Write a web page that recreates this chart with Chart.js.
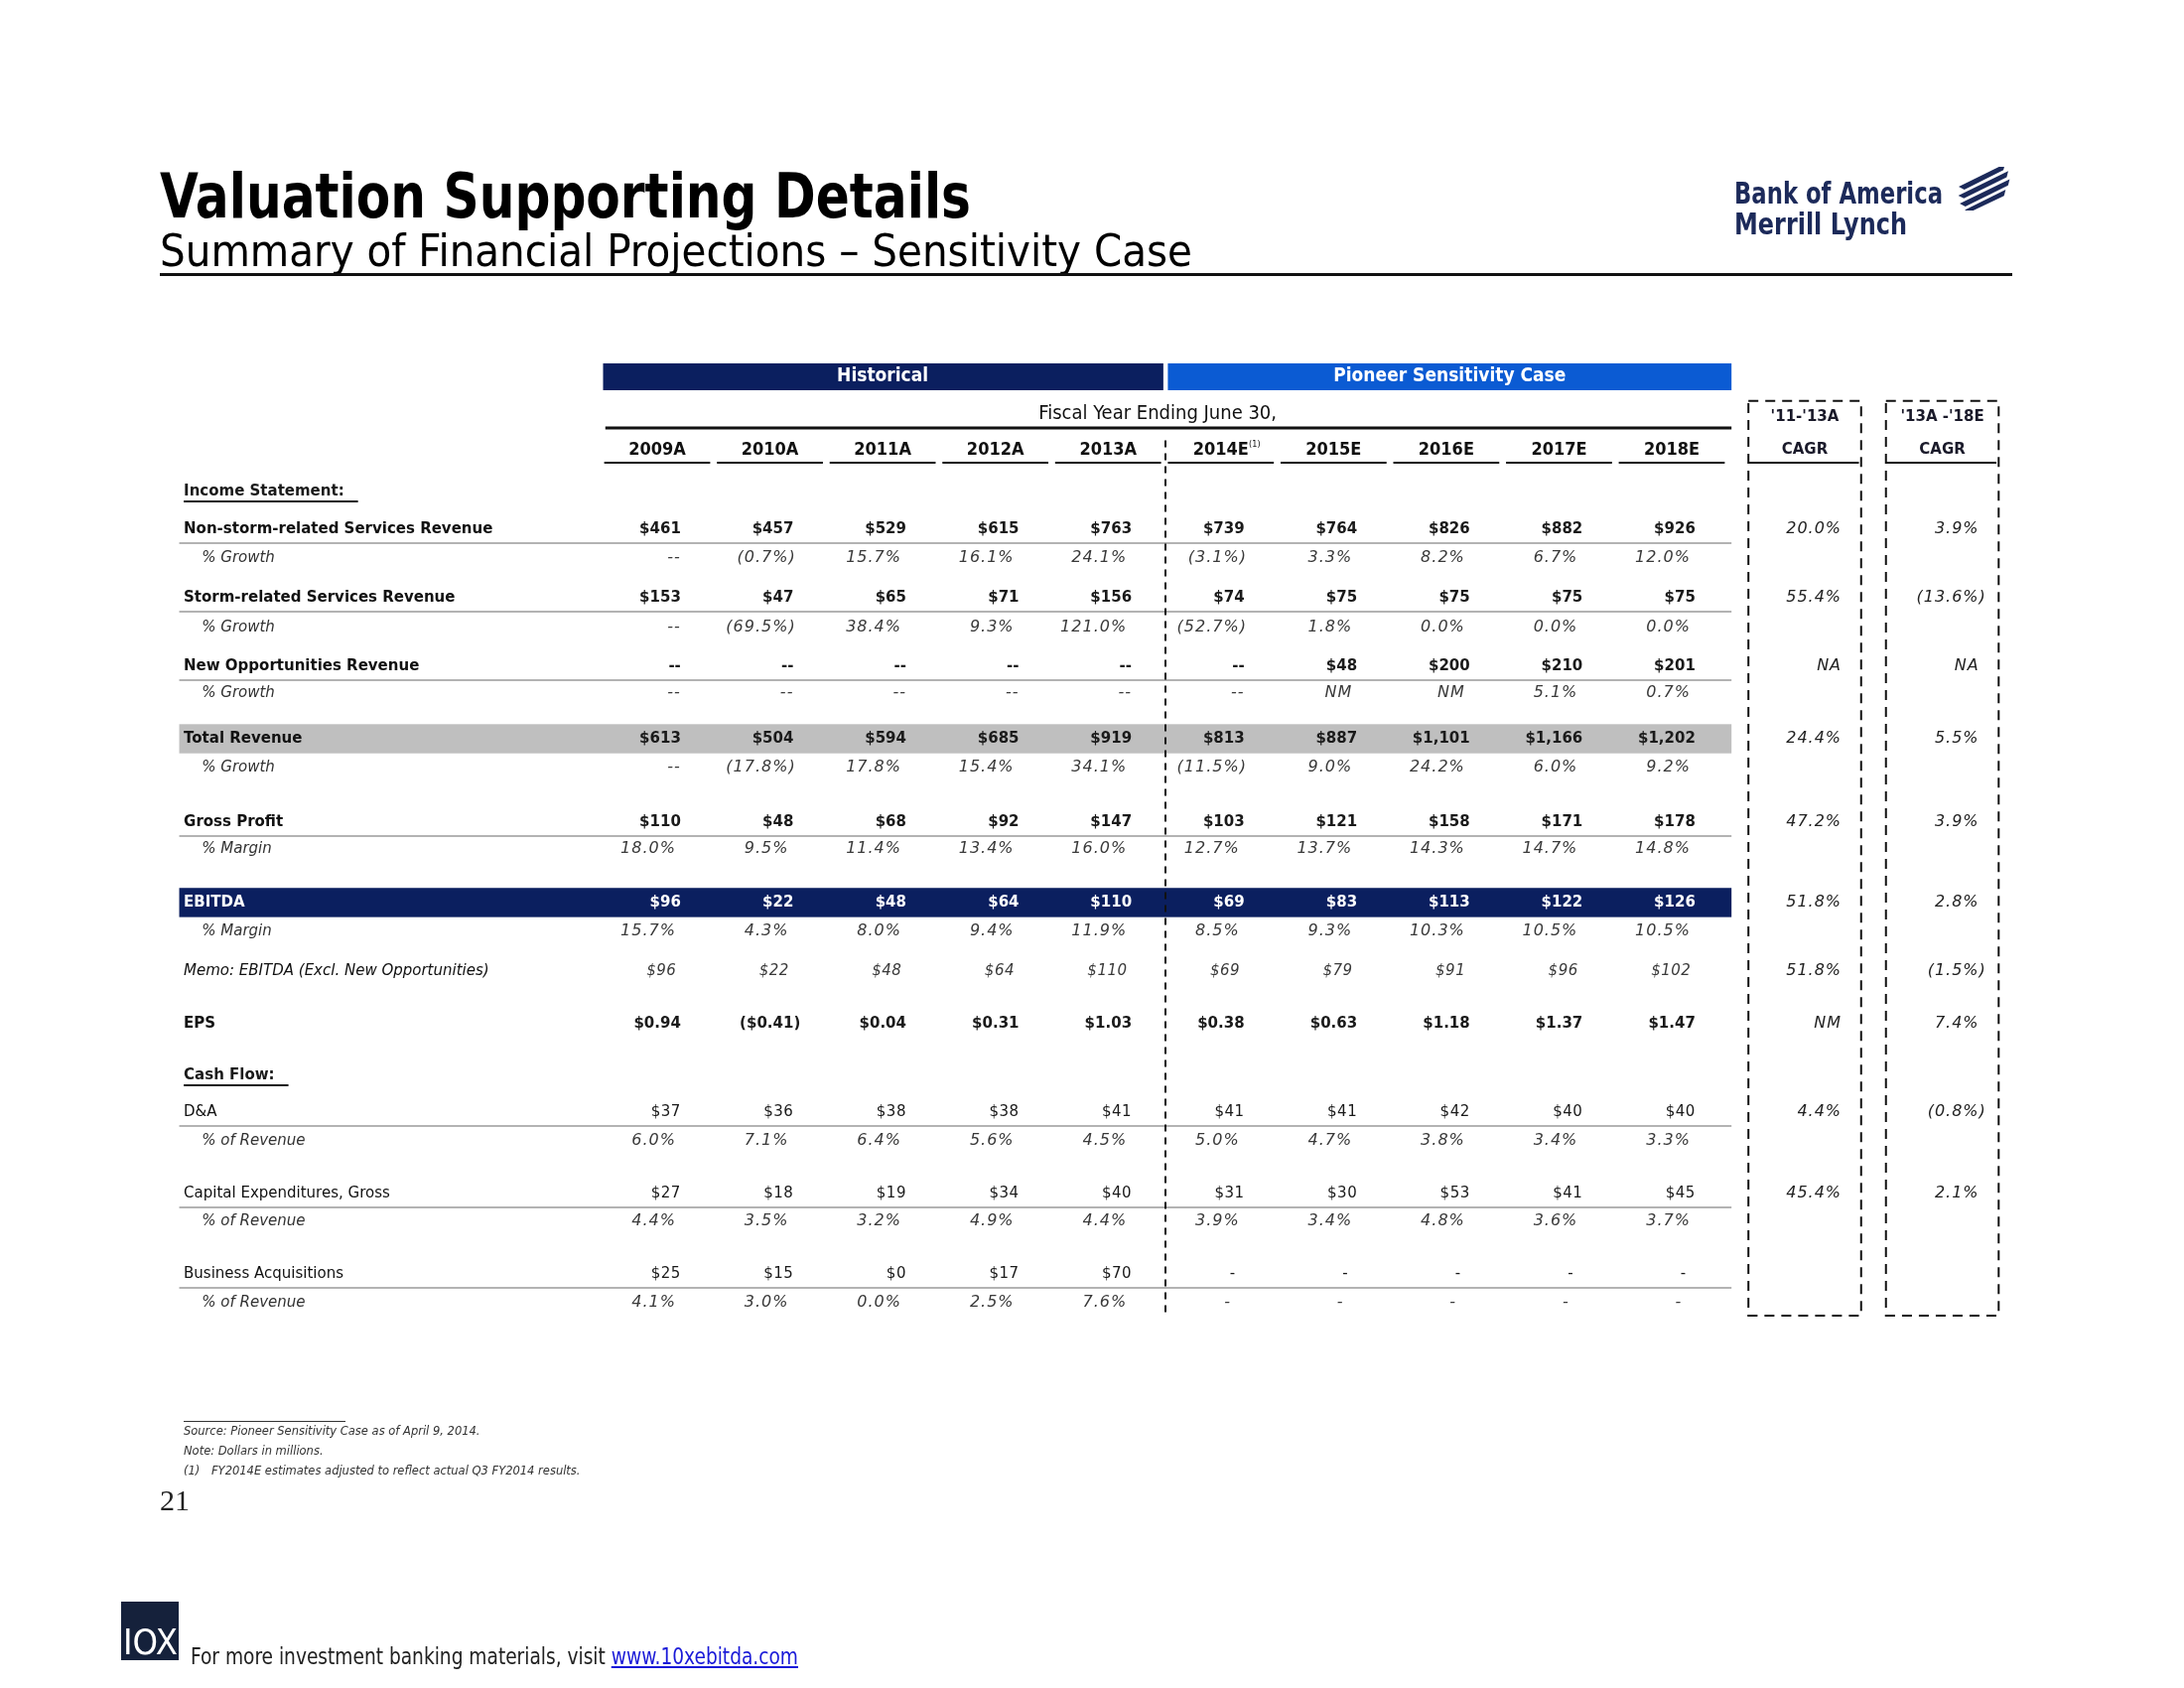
<!DOCTYPE html>
<html>
<head>
<meta charset="utf-8">
<title>Valuation Supporting Details</title>
<script src="https://cdn.jsdelivr.net/npm/chart.js@4.4.1/dist/chart.umd.min.js"></script>
<style>
    body { margin: 0; background: #fff; }
    #page { position: relative; width: 2200px; height: 1700px; overflow: hidden; background: #fff; }
    #table { position: absolute; left: 0; top: 0; }
    .abs { position: absolute; white-space: nowrap; line-height: 1; transform-origin: 0 0; }
    .narrow { font-family: 'Liberation Sans Narrow', 'DejaVu Sans Condensed', 'Liberation Sans', sans-serif; }
    .title { left: 161px; top: 167px; font-size: 62px; font-weight: bold; color: #000; }
    .subtitle { left: 161px; top: 230px; font-size: 45px; color: #000; }
    .rule { position: absolute; left: 161px; top: 275px; width: 1866px; height: 3px; background: #111; }
    .logo { font-weight: bold; font-size: 31px; color: #1c2a5a; left: 1747px; }
    .note { font-family: 'DejaVu Sans', sans-serif; font-style: italic; font-size: 11.5px; color: #333; }
    .pageno { left: 161px; top: 1496px; font-family: 'Liberation Serif', serif; font-size: 30px; color: #222; }
    .tenx { position: absolute; left: 122px; top: 1613px; width: 58px; height: 59px; background: #15213b; overflow: hidden; }
    .tenx span { position: absolute; left: 2px; bottom: 0px; color: #fff; font-size: 36px; line-height: 1; }
    .footer { left: 192px; top: 1657px; font-size: 23px; color: #222; }
    .footer a { color: #1a1ad8; text-decoration: underline; }
</style>
</head>
<body>
<div id="page">
    <canvas id="table" width="2200" height="1700"></canvas>

    <div class="abs narrow title" data-w="817">Valuation Supporting Details</div>
    <div class="abs narrow subtitle" data-w="1040">Summary of Financial Projections – Sensitivity Case</div>
    <div class="rule"></div>

    <div class="abs narrow logo" style="top:179px" data-w="210">Bank of America</div>
    <div class="abs narrow logo" style="top:210px" data-w="174">Merrill Lynch</div>
    <svg class="abs" style="left:1962px;top:168px" width="72" height="44" viewBox="0 0 72 44">
        <g transform="translate(36,22) rotate(-24)" fill="#1c2a5a">
            <polygon points="-22,-12 30,-14 26,-9 -18,-7"/>
            <polygon points="-26,-4 30,-6 26,-1 -22,1"/>
            <polygon points="-28,4 28,2 24,7 -24,9"/>
            <polygon points="-26,12 20,10 16,15 -22,16"/>
        </g>
    </svg>

    <div style="position:absolute;left:185px;top:1431px;width:163px;height:1px;background:#333"></div>
    <div class="abs note" style="left:185px;top:1436px">Source: Pioneer Sensitivity Case as of April 9, 2014.</div>
    <div class="abs note" style="left:185px;top:1456px">Note: Dollars in millions.</div>
    <div class="abs note" style="left:185px;top:1476px">(1)</div>
    <div class="abs note" style="left:213px;top:1476px">FY2014E estimates adjusted to reflect actual Q3 FY2014 results.</div>
    <div class="abs pageno">21</div>

    <div class="tenx"><span class="narrow">IOX</span></div>
    <div class="abs narrow footer" data-w="612">For more investment banking materials, visit <a>www.10xebitda.com</a></div>
</div>

<script>
// Fiscal years (June 30 year end)
const years = ['2009A', '2010A', '2011A', '2012A', '2013A', '2014E', '2015E', '2016E', '2017E', '2018E'];

// Income statement ($mm)
const nonStormRevenue = [461, 457, 529, 615, 763, 739, 764, 826, 882, 926];
const nonStormGrowth = ['--', -0.7, 15.7, 16.1, 24.1, -3.1, 3.3, 8.2, 6.7, 12.0];
const stormRevenue = [153, 47, 65, 71, 156, 74, 75, 75, 75, 75];
const stormGrowth = ['--', -69.5, 38.4, 9.3, 121.0, -52.7, 1.8, 0.0, 0.0, 0.0];
const newOppRevenue = ['--', '--', '--', '--', '--', '--', 48, 200, 210, 201];
const newOppGrowth = ['--', '--', '--', '--', '--', '--', 'NM', 'NM', 5.1, 0.7];
const totalRevenue = [613, 504, 594, 685, 919, 813, 887, 1101, 1166, 1202];
const totalGrowth = ['--', -17.8, 17.8, 15.4, 34.1, -11.5, 9.0, 24.2, 6.0, 9.2];
const grossProfit = [110, 48, 68, 92, 147, 103, 121, 158, 171, 178];
const grossMargin = [18.0, 9.5, 11.4, 13.4, 16.0, 12.7, 13.7, 14.3, 14.7, 14.8];
const ebitda = [96, 22, 48, 64, 110, 69, 83, 113, 122, 126];
const ebitdaMargin = [15.7, 4.3, 8.0, 9.4, 11.9, 8.5, 9.3, 10.3, 10.5, 10.5];
const memoEbitda = [96, 22, 48, 64, 110, 69, 79, 91, 96, 102];
const eps = [0.94, -0.41, 0.04, 0.31, 1.03, 0.38, 0.63, 1.18, 1.37, 1.47];

// Cash flow ($mm)
const dAndA = [37, 36, 38, 38, 41, 41, 41, 42, 40, 40];
const dAndAPct = [6.0, 7.1, 6.4, 5.6, 4.5, 5.0, 4.7, 3.8, 3.4, 3.3];
const capex = [27, 18, 19, 34, 40, 31, 30, 53, 41, 45];
const capexPct = [4.4, 3.5, 3.2, 4.9, 4.4, 3.9, 3.4, 4.8, 3.6, 3.7];
const acquisitions = [25, 15, 0, 17, 70, '-', '-', '-', '-', '-'];
const acquisitionsPct = [4.1, 3.0, 0.0, 2.5, 7.6, '-', '-', '-', '-', '-'];

// CAGR columns
const cagrHeaders = [["'11-'13A", 'CAGR'], ["'13A -'18E", 'CAGR']];
const cagrRows = ['nonStorm', 'storm', 'newOpp', 'total', 'gross', 'ebitda', 'memo', 'eps', 'da', 'capex'];
const cagr11to13 = [20.0, 55.4, 'NA', 24.4, 47.2, 51.8, 51.8, 'NM', 4.4, 45.4];
const cagr13to18 = [3.9, -13.6, 'NA', 5.5, 3.9, 2.8, -1.5, 7.4, -0.8, 2.1];

const NAVY = '#0b1f5f';
const BRIGHT = '#0b5bd3';
const BAND_GRAY = '#bfbfbf';
const RULE_GRAY = '#b3b3b3';
const TABLE_LEFT = -4.24;
const TABLE_RIGHT = 9.53;
const CAGR_X = [10.18, 11.4];
const FONT = '"DejaVu Sans", Verdana, sans-serif';
const NARROW = "'Liberation Sans Narrow', 'DejaVu Sans Condensed', 'Liberation Sans', sans-serif";

function usd(v) {
    if (typeof v === 'string') return v;
    const s = '$' + Math.abs(v).toLocaleString('en-US');
    return v < 0 ? '(' + s + ')' : s;
}
function usd2(v) {
    const s = '$' + Math.abs(v).toFixed(2);
    return v < 0 ? '(' + s + ')' : s;
}
function pct(v) {
    if (typeof v === 'string') return v;
    const s = Math.abs(v).toFixed(1) + '%';
    return v < 0 ? '(' + s + ')' : s;
}

// row layout: slot = vertical row position on the y scale
const rows = [
    { key: 'nonStorm', label: 'Non-storm-related Services Revenue', values: nonStormRevenue, fmt: usd, kind: 'main', slot: 1.29, rule: true },
    { label: '% Growth', values: nonStormGrowth, fmt: pct, kind: 'pct', slot: 2.28 },
    { key: 'storm', label: 'Storm-related Services Revenue', values: stormRevenue, fmt: usd, kind: 'main', slot: 3.64, rule: true },
    { label: '% Growth', values: stormGrowth, fmt: pct, kind: 'pct', slot: 4.66 },
    { key: 'newOpp', label: 'New Opportunities Revenue', values: newOppRevenue, fmt: usd, kind: 'main', slot: 5.99, rule: true },
    { label: '% Growth', values: newOppGrowth, fmt: pct, kind: 'pct', slot: 6.9 },
    { key: 'total', label: 'Total Revenue', values: totalRevenue, fmt: usd, kind: 'main', slot: 8.47, band: BAND_GRAY },
    { label: '% Growth', values: totalGrowth, fmt: pct, kind: 'pct', slot: 9.46 },
    { key: 'gross', label: 'Gross Profit', values: grossProfit, fmt: usd, kind: 'main', slot: 11.33, rule: true },
    { label: '% Margin', values: grossMargin, fmt: pct, kind: 'pct', slot: 12.24 },
    { key: 'ebitda', label: 'EBITDA', values: ebitda, fmt: usd, kind: 'ebitda', slot: 14.08, band: NAVY },
    { label: '% Margin', values: ebitdaMargin, fmt: pct, kind: 'pct', slot: 15.07 },
    { key: 'memo', label: 'Memo: EBITDA (Excl. New Opportunities)', values: memoEbitda, fmt: usd, kind: 'memo', slot: 16.43 },
    { key: 'eps', label: 'EPS', values: eps, fmt: usd2, kind: 'eps', slot: 18.23 },
    { key: 'da', label: 'D&A', values: dAndA, fmt: usd, kind: 'cf', slot: 21.26, rule: true },
    { label: '% of Revenue', values: dAndAPct, fmt: pct, kind: 'cfpct', slot: 22.24 },
    { key: 'capex', label: 'Capital Expenditures, Gross', values: capex, fmt: usd, kind: 'cf', slot: 24.05, rule: true },
    { label: '% of Revenue', values: capexPct, fmt: pct, kind: 'cfpct', slot: 25.0 },
    { label: 'Business Acquisitions', values: acquisitions, fmt: usd, kind: 'cf', slot: 26.8, rule: true },
    { label: '% of Revenue', values: acquisitionsPct, fmt: pct, kind: 'cfpct', slot: 27.79 }
];
const sections = [{ label: 'Income Statement:', slot: 0 }, { label: 'Cash Flow:', slot: 20.0 }];

const styles = {
    main: { font: 'bold 15px ' + FONT, color: '#1a1a1a', label: 'bold 15px ' + FONT, indent: 0, spacing: '0px' },
    ebitda: { font: 'bold 15px ' + FONT, color: '#ffffff', label: 'bold 15px ' + FONT, indent: 0, spacing: '0px' },
    pct: { font: 'italic 16px ' + FONT, color: '#3a3a3a', label: 'italic 15px ' + FONT, indent: 0.16, spacing: '1px' },
    memo: { font: 'italic 15px ' + FONT, color: '#3a3a3a', label: 'italic 15px ' + FONT, indent: 0, spacing: '0.5px' },
    eps: { font: 'bold 15px ' + FONT, color: '#1a1a1a', label: 'bold 15px ' + FONT, indent: 0, spacing: '0px' },
    cf: { font: '15px ' + FONT, color: '#1a1a1a', label: '15px ' + FONT, indent: 0, spacing: '0.5px' },
    cfpct: { font: 'italic 16px ' + FONT, color: '#3a3a3a', label: 'italic 15px ' + FONT, indent: 0.16, spacing: '1px' },
    cagr: { font: 'italic 16px ' + FONT, color: '#222222', spacing: '1px' }
};

const datasets = rows.map(r => ({
    label: r.label,
    kind: r.kind,
    slot: r.slot,
    rule: !!r.rule,
    band: r.band || null,
    cells: r.values.map(r.fmt),
    data: r.values.map((v, i) => ({ x: i, y: r.slot })),
    pointRadius: 0
}));

[cagr11to13, cagr13to18].forEach((vals, c) => {
    datasets.push({
        label: cagrHeaders[c].join(' '),
        kind: 'cagr',
        cells: vals.map(pct),
        data: vals.map((v, i) => ({ x: CAGR_X[c], y: rows.find(r => r.key === cagrRows[i]).slot })),
        pointRadius: 0
    });
});

function cellRight(ctx, kind, text, cx, colW) {
    const paren = ctx.measureText(')').width;
    if (text === '--') return cx + 0.21 * colW;
    if (text === '-') return cx + (kind === 'cfpct' ? 0.09 : 0.13) * colW;
    if (kind === 'pct' || kind === 'cfpct' || kind === 'cagr') {
        const base = cx + (kind === 'cagr' ? 0.39 : 0.23) * colW;
        return text.endsWith(')') ? base : base - paren;
    }
    const base = cx + (kind === 'memo' ? 0.17 : 0.21) * colW;
    return text.endsWith(')') ? base + paren : base;
}

const tablePlugin = {
    id: 'financialTable',
    beforeDatasetsDraw(chart) {
        const { ctx } = chart;
        const X = v => chart.scales.x.getPixelForValue(v);
        const Y = v => chart.scales.y.getPixelForValue(v);
        const rect = (x0, y0, x1, y1, color) => {
            ctx.fillStyle = color;
            ctx.fillRect(X(x0), Y(y0), X(x1) - X(x0), Y(y1) - Y(y0));
        };
        const hline = (x0, x1, yv, color, w) => {
            ctx.strokeStyle = color;
            ctx.lineWidth = w;
            ctx.beginPath();
            ctx.moveTo(X(x0), Math.round(Y(yv)));
            ctx.lineTo(X(x1), Math.round(Y(yv)));
            ctx.stroke();
        };
        ctx.save();
        ctx.setLineDash([]);

        // header bands
        rect(-0.48, -4.39, 4.49, -3.47, NAVY);
        rect(4.53, -4.39, 9.53, -3.47, BRIGHT);
        hline(-0.46, 9.53, -2.18, '#111', 3);
        years.forEach((_, i) => hline(i - 0.47, i + 0.47, -0.99, '#111', 2));

        // row bands and rules
        chart.data.datasets.forEach(ds => {
            if (ds.band) rect(TABLE_LEFT, ds.slot - 0.5, TABLE_RIGHT, ds.slot + 0.5, ds.band);
            if (ds.rule) hline(TABLE_LEFT, TABLE_RIGHT, ds.slot + 0.47, RULE_GRAY, 2);
        });

        // historical / projection divider
        ctx.strokeStyle = '#111';
        ctx.lineWidth = 2;
        ctx.setLineDash([7, 6]);
        ctx.beginPath();
        ctx.moveTo(Math.round(X(4.51)), Y(-1.75));
        ctx.lineTo(Math.round(X(4.51)), Y(28.13));
        ctx.stroke();

        // CAGR boxes
        ctx.setLineDash([10, 7]);
        CAGR_X.forEach(cx => {
            ctx.strokeRect(X(cx - 0.5), Y(-3.1), X(cx + 0.5) - X(cx - 0.5), Y(28.23) - Y(-3.1));
        });
        ctx.setLineDash([]);
        CAGR_X.forEach(cx => hline(cx - 0.5, cx + 0.48, -0.99, '#111', 2));
        ctx.restore();
    },
    afterDatasetsDraw(chart) {
        const { ctx } = chart;
        const X = v => chart.scales.x.getPixelForValue(v);
        const Y = v => chart.scales.y.getPixelForValue(v);
        const colW = X(1) - X(0);
        ctx.save();
        ctx.textBaseline = 'middle';

        // band titles
        ctx.textAlign = 'center';
        ctx.fillStyle = '#fff';
        ctx.font = 'bold 19px ' + NARROW;
        ctx.fillText('Historical', X(2.0), Y(-3.93));
        ctx.fillText('Pioneer Sensitivity Case', X(7.03), Y(-3.93));

        ctx.fillStyle = '#111';
        ctx.font = '20px ' + NARROW;
        ctx.fillText('Fiscal Year Ending June 30,', X(4.44), Y(-2.65));

        ctx.font = 'bold 18px ' + NARROW;
        years.forEach((yr, i) => ctx.fillText(yr, X(i), Y(-1.43)));
        ctx.font = '9px ' + NARROW;
        ctx.fillText('(1)', X(5.3), Y(-1.6));

        ctx.font = 'bold 15px ' + FONT;
        ctx.fillStyle = '#1a1a2a';
        cagrHeaders.forEach((h, c) => {
            ctx.fillText(h[0], X(CAGR_X[c]), Y(-2.55));
            ctx.fillText(h[1], X(CAGR_X[c]), Y(-1.43));
        });

        // section headings
        ctx.textAlign = 'left';
        sections.forEach(s => {
            ctx.font = 'bold 15px ' + FONT;
            ctx.fillStyle = '#1a1a1a';
            const x0 = X(-4.2);
            const w = ctx.measureText(s.label).width;
            ctx.fillText(s.label, x0, Y(s.slot));
            ctx.fillRect(x0, Y(s.slot) + 9, w + 14, 2);
        });

        // row labels and cells
        chart.data.datasets.forEach((ds, di) => {
            const st = styles[ds.kind];
            ctx.letterSpacing = '0px';
            if (ds.kind !== 'cagr') {
                ctx.textAlign = 'left';
                ctx.font = st.label;
                ctx.fillStyle = ds.kind === 'ebitda' ? '#fff' : (st.indent ? '#333' : '#111');
                ctx.fillText(ds.label, X(-4.2 + st.indent), Y(ds.slot));
            }
            ctx.textAlign = 'right';
            ctx.font = st.font;
            ctx.letterSpacing = st.spacing;
            ctx.fillStyle = st.color;
            chart.getDatasetMeta(di).data.forEach((pt, i) => {
                const text = ds.cells[i];
                ctx.fillText(text, cellRight(ctx, ds.kind, text, pt.x, colW), pt.y);
            });
        });
        ctx.restore();
    }
};

document.addEventListener('DOMContentLoaded', () => {
    document.querySelectorAll('[data-w]').forEach(el => {
        const w = el.getBoundingClientRect().width;
        if (w > 0) el.style.transform = 'scaleX(' + (el.dataset.w / w) + ')';
    });

    new Chart(document.getElementById('table'), {
        type: 'scatter',
        data: { datasets },
        options: {
            responsive: false,
            animation: false,
            events: [],
            layout: { padding: { left: 662, right: 516, top: 495, bottom: 388 } },
            scales: {
                x: { type: 'linear', min: 0, max: 9, display: false },
                y: { type: 'linear', min: 0, max: 27.79, reverse: true, display: false }
            },
            plugins: { legend: { display: false }, tooltip: { enabled: false } }
        },
        plugins: [tablePlugin]
    });
});
</script>
</body>
</html>
